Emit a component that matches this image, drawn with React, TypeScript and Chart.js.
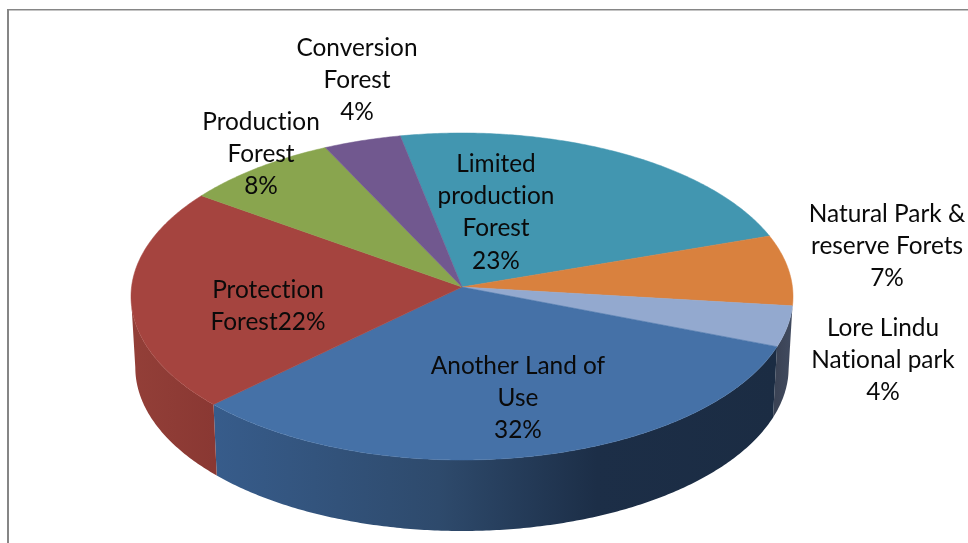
import React, { useEffect, useRef } from "react";
import { Chart, registerables } from "chart.js";

Chart.register(...registerables);

// Data
const categories = [
  "Limited production Forest",
  "Natural Park & reserve Forets",
  "Lore Lindu National park",
  "Another Land of Use",
  "Protection Forest",
  "Production Forest",
  "Conversion Forest",
];
const shares = [23, 7, 4, 32, 22, 8, 4];
const labelLines = [
  ["Limited", "production", "Forest", "23%"],
  ["Natural Park &", "reserve Forets", "7%"],
  ["Lore Lindu", "National park", "4%"],
  ["Another Land of", "Use", "32%"],
  ["Protection", "Forest22%"],
  ["Production", "Forest", "8%"],
  ["Conversion", "Forest", "4%"],
];

// Styles and layout
const topColors = ["#4296b0", "#d9813e", "#93a9cf", "#4571a7", "#a5443f", "#89a54e", "#71588f"];
const wallStops: [number, string][][] = [
  [[0, "#2b6a7d"]],
  [[0, "#9a5b2c"]],
  [[0, "#3b4355"], [1, "#414b60"]],
  [[0, "#375c8b"], [0.4, "#2e4a6c"], [0.68, "#1c2e47"], [1, "#1b2c43"]],
  [[0, "#933f38"], [1, "#8a3833"]],
  [[0, "#61753a"]],
  [[0, "#503f66"]],
];
const labelCenters: [number, number][] = [
  [496, 164],
  [887, 214],
  [883, 328],
  [518, 366],
  [268, 290],
  [261, 122],
  [357, 48],
];
const LINE_HEIGHT = 32.3;
const FONT = '24.4px Lato, "Open Sans", sans-serif';

// Projection of the pie disc onto the page, with a mild perspective
const CX = 462;
const CY = 296.5;
const RX = 331;
const RY = 163.5;
const APEX_SHIFT = 9.5;
const DEPTH = 71;
const BASE_NARROW = 0.987;
const PERSP = (-2 * APEX_SHIFT) / (2 * RY);
const AY = RY + RY * PERSP + APEX_SHIFT;
const EX = RX * Math.sqrt(1 - PERSP * PERSP);
const project = (phi: number) => {
  const s = Math.sin(phi);
  const w = 1 + PERSP * s;
  return { x: CX + (EX * Math.cos(phi)) / w, y: CY + (AY * s - APEX_SHIFT) / w };
};
const FRONT_MIN = Math.asin(-PERSP);
const FRONT_MAX = Math.PI - FRONT_MIN;

const normalized = (start: number, end: number): [number, number] => {
  let a = start;
  let b = end;
  while (a < -Math.PI) {
    a += 2 * Math.PI;
    b += 2 * Math.PI;
  }
  return [a, b];
};

const tracePhis = (a: number, b: number) => {
  const n = Math.max(2, Math.ceil(Math.abs(b - a) / 0.01));
  const out: number[] = [];
  for (let i = 0; i <= n; i++) out.push(a + ((b - a) * i) / n);
  return out;
};

const frame = {
  id: "frame",
  beforeDraw(chart: any) {
    const { ctx, width, height } = chart;
    ctx.save();
    ctx.fillStyle = "#ffffff";
    ctx.fillRect(0, 0, width, height);
    ctx.fillStyle = "#868686";
    ctx.fillRect(7, 9, width - 7, 1);
    ctx.fillRect(7, 9, 2, height - 9);
    ctx.fillStyle = "#c4c4c4";
    ctx.fillRect(9, 10, width - 9, 1);
    ctx.restore();
  },
};

const pie3d = {
  id: "pie3d",
  beforeDatasetsDraw(chart: any) {
    const { ctx } = chart;
    const arcs = chart.getDatasetMeta(0).data;
    arcs.forEach((el: any, idx: number) => {
      const [a, b] = normalized(el.startAngle, el.endAngle);
      el.draw = (c: CanvasRenderingContext2D) => {
        c.save();
        c.beginPath();
        c.moveTo(CX, CY - APEX_SHIFT);
        tracePhis(a, b).forEach((p) => {
          const q = project(p);
          c.lineTo(q.x, q.y);
        });
        c.closePath();
        c.fillStyle = el.options.backgroundColor;
        c.strokeStyle = el.options.backgroundColor;
        c.lineWidth = 0.5;
        c.fill();
        c.stroke();
        c.restore();
      };
      [0, 2 * Math.PI].forEach((turn) => {
        const from = Math.max(a, FRONT_MIN + turn);
        const to = Math.min(b, FRONT_MAX + turn);
        if (to <= from) return;
        const top = tracePhis(from, to).map(project);
        const xs = top.map((q) => q.x);
        const left = Math.min(...xs);
        const right = Math.max(...xs);
        const grad = ctx.createLinearGradient(left, 0, right, 0);
        wallStops[idx].forEach(([o, col]) => grad.addColorStop(o, col));
        ctx.save();
        ctx.beginPath();
        top.forEach((q, i) => (i ? ctx.lineTo(q.x, q.y) : ctx.moveTo(q.x, q.y)));
        [...top].reverse().forEach((q) => ctx.lineTo(CX + (q.x - CX) * BASE_NARROW, q.y + DEPTH));
        ctx.closePath();
        ctx.fillStyle = grad;
        ctx.fill();
        ctx.restore();
      });
    });
  },
  afterDatasetsDraw(chart: any) {
    const { ctx } = chart;
    ctx.save();
    ctx.font = FONT;
    ctx.fillStyle = "#0a0a0a";
    ctx.textAlign = "center";
    ctx.textBaseline = "middle";
    (ctx as any).textRendering = "optimizeSpeed";
    labelLines.forEach((lines, i) => {
      lines.forEach((line, j) => {
        ctx.fillText(line, labelCenters[i][0], labelCenters[i][1] + j * LINE_HEIGHT);
      });
    });
    ctx.restore();
  },
};

export default function App() {
  const ref = useRef<HTMLCanvasElement | null>(null);
  useEffect(() => {
    if (!ref.current) return;
    const chart = new Chart(ref.current, {
      type: "pie",
      data: {
        labels: categories,
        datasets: [{ data: shares, backgroundColor: topColors, borderWidth: 0 }],
      },
      options: {
        responsive: false,
        animation: false,
        rotation: -11.4,
        plugins: { legend: { display: false }, tooltip: { enabled: false } },
      },
      plugins: [frame, pie3d],
    } as any);
    return () => chart.destroy();
  }, []);
  return (
    <canvas
      ref={ref}
      width={968}
      height={543}
      style={{ position: "absolute", left: 0, top: 0, display: "block" }}
    />
  );
}
